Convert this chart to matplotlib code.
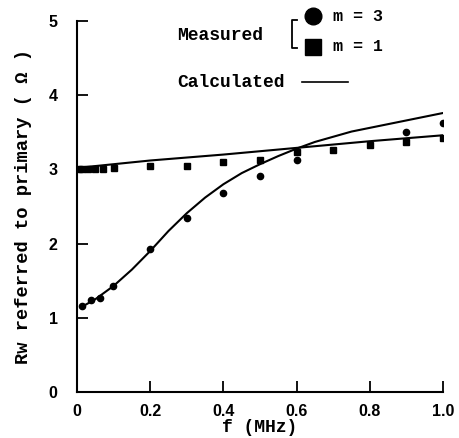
import matplotlib
matplotlib.use("Agg")
import matplotlib.pyplot as plt

# measured data
f_m3 = [0.014, 0.038, 0.063, 0.098, 0.2, 0.3, 0.4, 0.5, 0.6, 0.9, 1.0]
r_m3 = [1.16, 1.24, 1.27, 1.43, 1.93, 2.34, 2.68, 2.91, 3.13, 3.50, 3.63]
f_m1 = [0.005, 0.015, 0.03, 0.05, 0.07, 0.1, 0.2, 0.3, 0.4, 0.5, 0.6, 0.7, 0.8, 0.9, 1.0]
r_m1 = [3.01, 3.01, 3.01, 3.01, 3.01, 3.02, 3.05, 3.05, 3.10, 3.13, 3.23, 3.26, 3.33, 3.37, 3.42]

# calculated curves
fc_m3 = [0.014, 0.05, 0.1, 0.15, 0.2, 0.25, 0.3, 0.35, 0.4, 0.45, 0.5, 0.55, 0.6,
         0.65, 0.7, 0.75, 0.8, 0.85, 0.9, 0.95, 1.0]
rc_m3 = [1.15, 1.25, 1.43, 1.65, 1.90, 2.17, 2.41, 2.62, 2.80, 2.95, 3.07, 3.18, 3.28,
         3.37, 3.44, 3.51, 3.56, 3.61, 3.66, 3.71, 3.76]
fc_m1 = [0.0, 0.2, 0.4, 0.6, 0.8, 1.0]
rc_m1 = [3.02, 3.12, 3.20, 3.29, 3.38, 3.46]

xticks = [0, 0.2, 0.4, 0.6, 0.8, 1.0]
xticklabels = ["0", "0.2", "0.4", "0.6", "0.8", "1.0"]
yticks = [0, 1, 2, 3, 4, 5]

mono = "Liberation Mono"
sans = "Liberation Sans"

fig = plt.figure(figsize=(4.59, 4.38), dpi=100)
ax = fig.add_axes([77/459, 46/438, 366/459, 371/438])

ax.plot(fc_m3, rc_m3, color="black", lw=1.5)
ax.plot(fc_m1, rc_m1, color="black", lw=1.5)
ax.plot(f_m3, r_m3, "o", color="black", ms=4.5)
ax.plot(f_m1, r_m1, "s", color="black", ms=4.5)

ax.set_xlim(0, 1.0)
ax.set_ylim(0, 5)
for s in ["top", "right"]:
    ax.spines[s].set_visible(False)
for s in ["left", "bottom"]:
    ax.spines[s].set_linewidth(1.5)
ax.set_xticks(xticks)
ax.set_xticklabels(xticklabels)
ax.set_yticks(yticks)
ax.tick_params(direction="in", length=8, width=1.3)
ax.tick_params(axis="y", pad=14)
ax.tick_params(axis="x", pad=9)
for lab in ax.get_xticklabels() + ax.get_yticklabels():
    lab.set_fontfamily(sans)
    lab.set_fontweight("bold")
    lab.set_fontsize(11.5)

ax.set_xlabel("f (MHz)", fontfamily=mono, fontweight="bold", fontsize=13, labelpad=0)
ax.set_ylabel("Rw referred to primary ( Ω )", fontfamily=mono, fontweight="bold",
              fontsize=13.5, labelpad=12)

# legend drawn manually
tr = ax.transAxes
ax.text(0.273, 0.962, "Measured", transform=tr, fontfamily=mono, fontweight="bold",
        fontsize=13, va="center", ha="left")
ax.plot([0.601, 0.587, 0.587, 0.601], [1.003, 1.003, 0.927, 0.927], color="black",
        lw=1.3, transform=tr, clip_on=False)
ax.plot([0.645], [1.013], "o", color="black", ms=12, transform=tr, clip_on=False)
ax.plot([0.645], [0.930], "s", color="black", ms=12, transform=tr, clip_on=False)
ax.text(0.70, 1.011, "m = 3", transform=tr, fontfamily=mono, fontweight="bold",
        fontsize=12, va="center", ha="left")
ax.text(0.70, 0.930, "m = 1", transform=tr, fontfamily=mono, fontweight="bold",
        fontsize=12, va="center", ha="left")
ax.text(0.273, 0.833, "Calculated", transform=tr, fontfamily=mono, fontweight="bold",
        fontsize=13, va="center", ha="left")
ax.plot([0.615, 0.74], [0.836, 0.836], color="black", lw=1.2, transform=tr, clip_on=False)

fig.savefig("out.png", dpi=100)
